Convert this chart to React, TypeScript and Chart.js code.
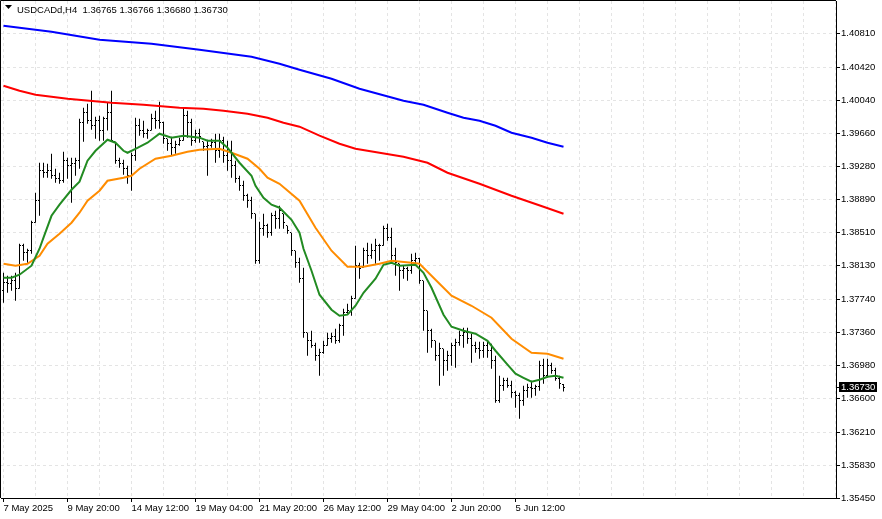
import React, { useEffect, useRef } from "react";
import { Chart, registerables } from "chart.js";

Chart.register(...registerables);

const symbolTitle = "USDCADd,H4  1.36765 1.36766 1.36680 1.36730";
const lastPrice = 1.3673;

const barOpen = [
  1.37841, 1.37934, 1.37922, 1.37957, 1.37865, 1.3836, 1.3828, 1.38303, 1.38626, 1.3888,
  1.39226, 1.39203, 1.39226, 1.39168, 1.39134, 1.3911, 1.39341, 1.39283, 1.39306, 1.39341,
  1.3978, 1.39895, 1.39803, 1.39745, 1.39803, 1.39689, 1.39826, 1.39895, 1.3956, 1.39341,
  1.39306, 1.39249, 1.39168, 1.39398, 1.39745, 1.39689, 1.39653, 1.39689, 1.39826, 1.39803,
  1.3978, 1.39595, 1.39537, 1.39491, 1.39526, 1.39572, 1.3986, 1.3978, 1.39572, 1.39653,
  1.3956, 1.39503, 1.39514, 1.39549, 1.39456, 1.39572, 1.39398, 1.39341, 1.39283, 1.39134,
  1.39052, 1.38937, 1.3888, 1.3873, 1.38187, 1.38557, 1.38591, 1.38511, 1.38706, 1.38672,
  1.3873, 1.38591, 1.38511, 1.38303, 1.38164, 1.3798, 1.37357, 1.37264, 1.37207, 1.37091,
  1.37126, 1.37207, 1.37287, 1.3731, 1.37264, 1.37438, 1.37588, 1.37611, 1.37749, 1.3813,
  1.38107, 1.38303, 1.38245, 1.38303, 1.3836, 1.3836, 1.38557, 1.38453, 1.38245, 1.38152,
  1.38072, 1.38095, 1.38072, 1.38187, 1.3821, 1.37957, 1.37611, 1.3738, 1.37264, 1.37091,
  1.37172, 1.37034, 1.37091, 1.37207, 1.37241, 1.37322, 1.37357, 1.37287, 1.37207, 1.37172,
  1.37149, 1.37207, 1.37149, 1.37034, 1.36572, 1.36745, 1.36803, 1.36745, 1.36665, 1.3663,
  1.36572, 1.36688, 1.36722, 1.36711, 1.36734, 1.36976, 1.3686, 1.36976, 1.36918, 1.36826,
  1.36765,
];
const barHigh = [
  1.38049, 1.38014, 1.38014, 1.38049, 1.38383, 1.38383, 1.38326, 1.38649, 1.38972, 1.39318,
  1.39318, 1.39306, 1.39421, 1.39249, 1.39203, 1.39444, 1.39376, 1.39376, 1.39376, 1.39826,
  1.39952, 1.39999, 1.40149, 1.39849, 1.3986, 1.39849, 1.4001, 1.40149, 1.3956, 1.39376,
  1.39353, 1.39283, 1.39433, 1.39837, 1.39826, 1.39803, 1.39711, 1.39883, 1.39918, 1.40022,
  1.39791, 1.39595, 1.39618, 1.39572, 1.39607, 1.39952, 1.39918, 1.39826, 1.39699, 1.39711,
  1.3956, 1.39583, 1.39595, 1.39653, 1.39653, 1.39618, 1.39572, 1.39572, 1.39341, 1.39168,
  1.3911, 1.3896, 1.38926, 1.3873, 1.38637, 1.3873, 1.38614, 1.38741, 1.38764, 1.38822,
  1.3873, 1.38591, 1.38511, 1.38303, 1.38222, 1.38107, 1.37357, 1.3738, 1.37241, 1.37172,
  1.37264, 1.37357, 1.37357, 1.37403, 1.37461, 1.37634, 1.37691, 1.37784, 1.3836, 1.38164,
  1.38337, 1.38395, 1.38383, 1.38441, 1.38383, 1.38591, 1.38614, 1.38568, 1.38337, 1.38152,
  1.3813, 1.38118, 1.38268, 1.3828, 1.38222, 1.37957, 1.37611, 1.37403, 1.37264, 1.37241,
  1.37172, 1.37149, 1.37241, 1.37287, 1.3738, 1.37414, 1.37414, 1.37345, 1.37252, 1.37252,
  1.37252, 1.37252, 1.37229, 1.37091, 1.3686, 1.36837, 1.36837, 1.36803, 1.36688, 1.36665,
  1.36745, 1.36768, 1.36803, 1.36757, 1.37034, 1.37057, 1.37057, 1.37011, 1.36953, 1.3686,
  1.36766,
];
const barLow = [
  1.37703, 1.37818, 1.37841, 1.37726, 1.37865, 1.38187, 1.38164, 1.38268, 1.38626, 1.38706,
  1.39145, 1.39145, 1.39134, 1.39087, 1.39075, 1.39087, 1.39134, 1.38857, 1.39168, 1.39249,
  1.3956, 1.39768, 1.39699, 1.39595, 1.39572, 1.39572, 1.39689, 1.39572, 1.39306, 1.3926,
  1.3918, 1.39075, 1.38995, 1.39341, 1.3963, 1.39607, 1.39595, 1.39689, 1.39711, 1.39711,
  1.39537, 1.39456, 1.39398, 1.39421, 1.39514, 1.39572, 1.39607, 1.39514, 1.39549, 1.39549,
  1.39456, 1.39168, 1.39491, 1.39318, 1.39376, 1.39318, 1.39226, 1.39145, 1.39087, 1.38995,
  1.3888, 1.38799, 1.38672, 1.38152, 1.38152, 1.38476, 1.38453, 1.38476, 1.38557, 1.38557,
  1.38557, 1.38499, 1.38245, 1.38107, 1.37934, 1.37299, 1.37091, 1.37184, 1.37034, 1.3686,
  1.37114, 1.37207, 1.37241, 1.37229, 1.37241, 1.37322, 1.37576, 1.37553, 1.37749, 1.3798,
  1.38107, 1.38152, 1.3821, 1.38152, 1.38187, 1.3836, 1.38418, 1.38164, 1.38014, 1.37841,
  1.3798, 1.37957, 1.38037, 1.3813, 1.37922, 1.3738, 1.37126, 1.37184, 1.37034, 1.36745,
  1.3686, 1.36918, 1.36976, 1.36953, 1.37207, 1.37184, 1.37229, 1.37011, 1.37126, 1.37057,
  1.37068, 1.37068, 1.36941, 1.36549, 1.36549, 1.36688, 1.36722, 1.36607, 1.36492, 1.36364,
  1.36515, 1.36607, 1.36607, 1.3663, 1.36688, 1.36768, 1.36837, 1.36883, 1.36803, 1.36711,
  1.3668,
];
const barClose = [
  1.37934, 1.37922, 1.37957, 1.37865, 1.3836, 1.3828, 1.38303, 1.38626, 1.3888, 1.39226,
  1.39203, 1.39226, 1.39168, 1.39134, 1.3911, 1.39341, 1.39283, 1.39306, 1.39341, 1.3978,
  1.39895, 1.39803, 1.39745, 1.39803, 1.39689, 1.39826, 1.39895, 1.39572, 1.39341, 1.39306,
  1.39249, 1.39168, 1.39398, 1.39745, 1.39689, 1.39653, 1.39689, 1.39826, 1.39803, 1.3978,
  1.39595, 1.39537, 1.39491, 1.39526, 1.39572, 1.3986, 1.3978, 1.39572, 1.39653, 1.39618,
  1.39503, 1.39514, 1.39549, 1.39456, 1.39572, 1.39398, 1.39341, 1.39283, 1.39134, 1.39052,
  1.38937, 1.3888, 1.3873, 1.38187, 1.38557, 1.38591, 1.38511, 1.38706, 1.38672, 1.38764,
  1.38626, 1.38534, 1.38303, 1.38164, 1.3798, 1.37357, 1.37264, 1.37207, 1.37091, 1.37126,
  1.37207, 1.37287, 1.3731, 1.37264, 1.37438, 1.37588, 1.37611, 1.37749, 1.3813, 1.38095,
  1.38303, 1.38245, 1.38303, 1.3836, 1.3836, 1.38557, 1.38453, 1.38245, 1.38164, 1.38072,
  1.38095, 1.38072, 1.38187, 1.3821, 1.37957, 1.37611, 1.3738, 1.37264, 1.37091, 1.37172,
  1.37034, 1.37091, 1.37207, 1.37241, 1.37322, 1.37357, 1.37287, 1.37207, 1.37172, 1.37149,
  1.37207, 1.37149, 1.37034, 1.36572, 1.36745, 1.36803, 1.36745, 1.36665, 1.3663, 1.36572,
  1.36688, 1.36722, 1.36711, 1.36734, 1.36976, 1.3686, 1.36976, 1.36918, 1.36826, 1.36768,
  1.3673,
];

// Moving averages: bar index where read, and value there
const fastMaBars = [0, 2, 4, 7, 9, 10, 12, 14, 17, 19, 21, 23, 26, 28, 30, 31, 33, 36, 39, 42, 45, 49, 51, 54, 56, 59, 62, 63, 65, 67, 69, 72, 74, 75, 77, 79, 82, 84, 86, 88, 90, 93, 95, 97, 99, 103, 105, 107, 110, 112, 115, 118, 121, 123, 126, 128, 130, 132, 134, 136, 138, 140];
const fastMaValues = [1.37991, 1.37991, 1.38026, 1.3813, 1.38326, 1.38453, 1.38706, 1.38834, 1.39006, 1.39099, 1.39341, 1.39456, 1.39583, 1.39549, 1.39456, 1.39433, 1.39479, 1.39549, 1.39653, 1.39607, 1.3963, 1.39607, 1.39572, 1.39572, 1.39491, 1.39318, 1.39168, 1.39052, 1.38914, 1.38834, 1.38799, 1.3866, 1.38511, 1.38326, 1.38072, 1.37795, 1.37622, 1.37553, 1.37565, 1.37668, 1.37818, 1.3798, 1.38141, 1.38164, 1.3813, 1.38141, 1.38049, 1.37876, 1.37565, 1.37426, 1.3738, 1.37345, 1.37264, 1.37149, 1.36988, 1.36884, 1.36837, 1.36791, 1.36814, 1.36849, 1.3686, 1.36837];

const midMaBars = [0, 3, 6, 9, 11, 14, 17, 19, 21, 24, 26, 30, 32, 34, 38, 42, 46, 49, 54, 57, 61, 64, 66, 69, 74, 78, 82, 86, 90, 94, 97, 102, 104, 109, 112, 117, 122, 127, 132, 136, 140];
const midMaValues = [1.38153, 1.3813, 1.38152, 1.38245, 1.38383, 1.38499, 1.38626, 1.38741, 1.3888, 1.38995, 1.3911, 1.39145, 1.39168, 1.39249, 1.39364, 1.39398, 1.39444, 1.39468, 1.39479, 1.39433, 1.39364, 1.39249, 1.39145, 1.39075, 1.3888, 1.38568, 1.38303, 1.38118, 1.38118, 1.38152, 1.38187, 1.38164, 1.38152, 1.37922, 1.37784, 1.37668, 1.3753, 1.37287, 1.37126, 1.37114, 1.37057];

const slowMaBars = [0, 4, 8, 16, 27, 35, 44, 50, 55, 61, 66, 70, 74, 79, 84, 88, 94, 100, 106, 111, 119, 127, 135, 140];
const slowMaValues = [1.40206, 1.40149, 1.40103, 1.40056, 1.4001, 1.39987, 1.39952, 1.39941, 1.39918, 1.39883, 1.39837, 1.3978, 1.39734, 1.3963, 1.39537, 1.39479, 1.39433, 1.39387, 1.39318, 1.39203, 1.39075, 1.38937, 1.3881, 1.3873];

const longMaBars = [0, 12, 24, 37, 49, 62, 69, 74, 82, 89, 100, 105, 111, 115, 119, 123, 127, 132, 136, 140];
const longMaValues = [1.40899, 1.40829, 1.40737, 1.40691, 1.40622, 1.40541, 1.4046, 1.40391, 1.40287, 1.40172, 1.40033, 1.39987, 1.39895, 1.39837, 1.39803, 1.39745, 1.39664, 1.39606, 1.39549, 1.39503];

const priceTicks = [1.4081, 1.4042, 1.4004, 1.3966, 1.3928, 1.3889, 1.3851, 1.3813, 1.3774, 1.3736, 1.3698, 1.366, 1.3621, 1.3583, 1.3545];
const timeTickBars = [0, 8, 16, 24, 32, 40, 48, 56, 64, 72, 80, 88, 96, 104, 112, 120, 128, 136, 144, 152, 160, 168, 176, 184, 192, 200, 208];
const timeLabelBars = [0, 16, 32, 48, 64, 80, 96, 112, 128];
const timeLabels = ["7 May 2025", "9 May 20:00", "14 May 12:00", "19 May 04:00", "21 May 20:00", "26 May 12:00", "29 May 04:00", "2 Jun 20:00", "5 Jun 12:00"];

const FONT = "'Liberation Sans', Arial, sans-serif";

const pts = (xs: number[], ys: number[]) => xs.map((x, i) => ({ x, y: ys[i] }));

const ohlcTicksPlugin = {
  id: "ohlcTicks",
  beforeDatasetsDraw(chart: any) {
    const { ctx, scales } = chart;
    const xs = scales.x;
    const ys = scales.y;
    ctx.save();
    ctx.fillStyle = "#000";
    for (let i = 0; i < barOpen.length; i++) {
      const px = Math.round(xs.getPixelForValue(i) - 0.5);
      const yo = Math.floor(ys.getPixelForValue(barOpen[i]));
      const yc = Math.floor(ys.getPixelForValue(barClose[i]));
      ctx.fillRect(px - 1, yo, 1, 1);
      ctx.fillRect(px + 1, yc, 1, 1);
    }
    ctx.restore();
  },
};

const framePlugin = {
  id: "frame",
  afterDraw(chart: any) {
    const { ctx, chartArea, scales } = chart;
    ctx.save();
    ctx.strokeStyle = "#000";
    ctx.lineWidth = 1;
    ctx.beginPath();
    ctx.moveTo(0.5, chartArea.bottom);
    ctx.lineTo(0.5, 0.5);
    ctx.lineTo(chartArea.right, 0.5);
    ctx.stroke();
    // title
    ctx.fillStyle = "#000";
    ctx.beginPath();
    ctx.moveTo(5, 5);
    ctx.lineTo(12, 5);
    ctx.lineTo(8.5, 9);
    ctx.closePath();
    ctx.fill();
    ctx.font = `9.5px ${FONT}`;
    ctx.textBaseline = "alphabetic";
    ctx.textAlign = "left";
    ctx.fillText(symbolTitle, 17, 13);
    // last price label
    const py = Math.round(scales.y.getPixelForValue(lastPrice));
    ctx.fillStyle = "#000";
    ctx.fillRect(chartArea.right + 3, py - 5, 38, 10);
    ctx.fillRect(chartArea.right, py, 4, 1);
    ctx.fillStyle = "#fff";
    ctx.textBaseline = "middle";
    ctx.fillText(lastPrice.toFixed(5), chartArea.right + 5, py + 0.5);
    ctx.restore();
  },
};

export default function App() {
  const ref = useRef<HTMLCanvasElement | null>(null);
  useEffect(() => {
    if (!ref.current) return;
    const lineDs = (label: string, xs: number[], ys: number[], color: string, order: number) => ({
      type: "line" as const,
      label,
      data: pts(xs, ys),
      borderColor: color,
      backgroundColor: color,
      borderWidth: 2,
      pointRadius: 0,
      tension: 0,
      fill: false,
      order,
    });
    const chart = new Chart(ref.current, {
      type: "line",
      data: {
        datasets: [
          {
            type: "bar",
            label: "range",
            data: barHigh.map((h, i) => ({ x: i, y: [barLow[i], h] })) as any,
            backgroundColor: "#000",
            borderWidth: 0,
            barThickness: 1,
            inflateAmount: 0,
            grouped: false,
            order: 10,
          } as any,
          lineDs("MA long", longMaBars, longMaValues, "#0000ff", 3),
          lineDs("MA slow", slowMaBars, slowMaValues, "#ff0000", 2),
          lineDs("MA mid", midMaBars, midMaValues, "#ff8c00", 1),
          lineDs("MA fast", fastMaBars, fastMaValues, "#228b22", 0),
        ],
      },
      options: {
        responsive: false,
        animation: false,
        events: [],
        layout: { padding: { left: 1, top: 1, right: 0, bottom: 0 } },
        plugins: { legend: { display: false }, tooltip: { enabled: false } },
        scales: {
          x: {
            type: "linear",
            min: -0.625,
            max: 208.125,
            offset: false,
            afterBuildTicks: (s: any) => {
              s.ticks = timeTickBars.map((v) => ({ value: v }));
            },
            afterFit: (s: any) => {
              s.height = 21;
              s.paddingLeft = 0;
              s.paddingRight = 0;
            },
            grid: {
              offset: false,
              color: "#e4e4e4",
              tickLength: 4,
              tickColor: (c: any) => (c.tick && timeLabelBars.includes(c.tick.value) ? "#000" : "rgba(0,0,0,0)"),
            },
            border: { display: true, color: "#000", width: 1, dash: [3, 3] },
            ticks: {
              autoSkip: false,
              maxRotation: 0,
              minRotation: 0,
              align: "start",
              padding: 1,
              color: "#000",
              font: { family: FONT, size: 9.5 },
              callback: (v: any) => {
                const k = timeLabelBars.indexOf(Number(v));
                return k >= 0 ? timeLabels[k] : "";
              },
            },
          },
          y: {
            type: "linear",
            position: "right",
            min: 1.3545,
            max: 1.41184,
            afterBuildTicks: (s: any) => {
              s.ticks = priceTicks.map((v) => ({ value: v }));
            },
            afterFit: (s: any) => {
              s.width = 46;
              s.paddingTop = 0;
              s.paddingBottom = 0;
            },
            grid: { color: "#e4e4e4", tickLength: 4, tickColor: "#000" },
            border: { display: true, color: "#000", width: 1, dash: [3, 3] },
            ticks: {
              padding: 1,
              color: "#000",
              font: { family: FONT, size: 9.5 },
              callback: (v: any) => Number(v).toFixed(5),
            },
          },
        },
      } as any,
      plugins: [ohlcTicksPlugin, framePlugin],
    });
    return () => chart.destroy();
  }, []);
  return (
    <div style={{ position: "fixed", left: 0, top: 0, width: 882, height: 519, background: "#fff" }}>
      <canvas ref={ref} width={882} height={519} style={{ display: "block", width: 882, height: 519 }} />
    </div>
  );
}
